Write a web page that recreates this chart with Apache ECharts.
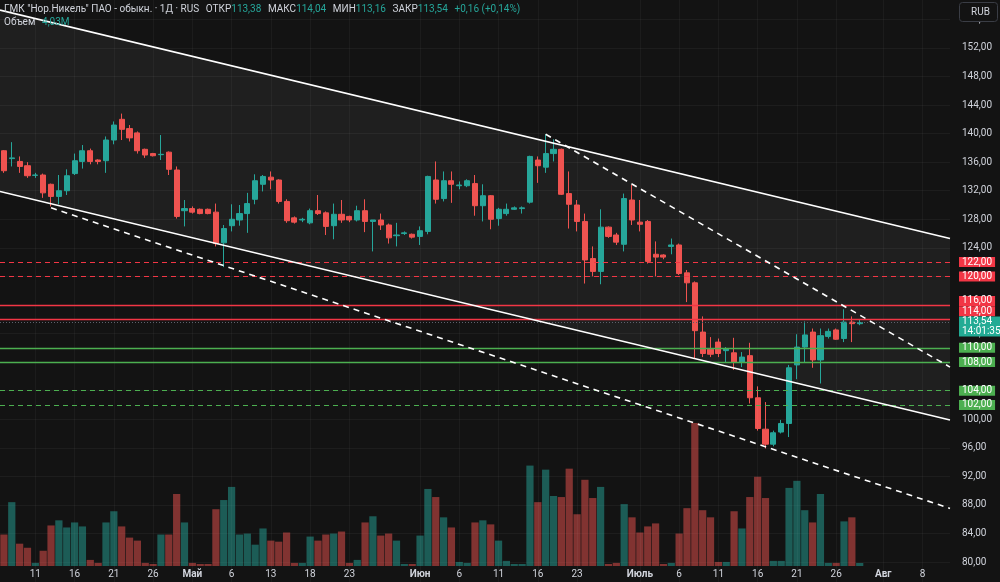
<!DOCTYPE html>
<html>
<head>
<meta charset="utf-8">
<script src="https://cdn.jsdelivr.net/npm/echarts@6/dist/echarts.min.js"></script>
<style>
  html, body { margin: 0; padding: 0; background: #131313; }
  #chart { width: 1000px; height: 582px; }
</style>
</head>
<body>
<div id="chart"></div>
<script>
// свечи: [откр, макс, мин, закр]
var ohlc = [
  [137.6,137.7,134.5,134.8],[136.5,138.8,135.4,136.6],[136.1,136.8,134.5,135.4],[135.5,136.0,133.8,134.1],
  [134.15,134.5,133.8,134.2],[134.2,134.4,131.0,131.7],[132.9,133.0,129.8,131.2],[131.2,134.2,130.1,132.0],
  [132.0,135.0,131.4,134.1],[134.4,137.2,134.2,136.2],[136.1,138.4,135.1,137.6],[137.6,137.9,135.7,136.1],
  [136.3,136.4,135.7,136.1],[136.2,139.6,134.5,139.1],[139.1,141.7,138.5,141.2],[142.0,142.8,139.1,140.6],
  [140.7,141.2,138.9,139.4],[140.1,140.3,137.2,137.6],[137.8,137.9,136.6,137.0],[137.2,137.3,136.8,136.9],
  [137.05,139.8,136.3,137.1],[137.4,137.5,134.2,135.0],[134.9,135.4,128.1,128.4],[129.2,130.7,127.0,129.5],
  [129.5,129.8,128.8,129.0],[129.4,129.5,128.7,128.8],[129.4,129.5,128.7,128.8],[129.0,130.2,124.2,124.6],
  [124.7,127.2,121.3,126.7],[127.1,130.1,126.3,128.0],[127.9,130.0,127.1,128.8],[128.8,131.7,126.1,130.2],
  [130.8,134.3,130.1,133.4],[132.9,134.2,131.9,134.0],[133.9,134.7,132.2,133.5],[133.5,133.6,130.2,130.5],
  [130.5,130.8,127.5,127.8],[128.2,128.4,127.4,127.6],[127.9,128.2,127.6,128.0],[127.5,129.5,127.3,129.2],
  [129.2,131.4,128.6,128.8],[128.9,129.1,125.8,127.0],[127.1,130.2,125.2,128.7],[128.7,130.7,127.5,127.9],
  [128.4,128.5,127.6,127.9],[127.9,129.9,127.7,129.2],[129.2,130.8,126.2,127.7],[127.7,127.9,123.5,127.9],
  [127.9,128.8,126.5,127.2],[127.2,127.4,124.6,125.4],[125.7,127.5,124.2,125.8],[126.0,126.3,125.8,126.1],
  [125.9,126.0,125.3,125.5],[125.6,127.0,124.4,126.4],[126.3,134.1,125.9,134.0],[133.5,136.1,130.2,130.8],
  [130.9,134.7,130.5,133.4],[133.4,134.7,130.3,132.9],[132.7,133.3,132.2,132.8],[132.7,133.6,132.5,133.4],
  [133.0,134.2,128.5,129.9],[129.9,132.9,127.7,131.3],[131.3,131.4,126.6,128.0],[128.1,129.6,127.1,129.4],
  [128.8,130.2,128.5,129.4],[129.4,129.8,129.3,129.6],[129.5,129.8,128.8,129.6],[130.4,136.9,130.2,136.8],
  [136.3,136.8,133.1,135.5],[135.3,139.9,134.5,137.2],[137.2,139.2,136.1,137.8],[137.8,137.9,131.4,131.5],
  [131.6,134.7,126.7,130.1],[130.0,130.7,126.3,127.7],[127.7,128.8,119.0,122.3],[122.5,124.2,120.0,120.7],
  [120.7,129.4,118.9,126.9],[126.9,127.0,125.4,125.6],[125.8,126.1,124.4,124.8],[124.5,131.6,123.5,130.9],
  [130.7,132.8,127.2,127.9],[127.6,130.7,126.3,127.3],[127.7,127.9,121.8,122.1],[123.1,124.9,120.0,122.7],
  [123.0,123.1,122.4,122.7],[124.2,125.3,123.1,124.4],[124.4,124.6,120.2,120.4],[120.5,120.9,116.4,119.1],
  [119.1,119.3,108.5,112.4],[112.2,114.4,108.7,109.2],[109.8,111.5,108.7,109.1],[110.8,111.3,108.7,109.2],
  [109.6,110.1,108.0,109.9],[109.3,111.4,106.9,108.0],[108.0,109.4,107.3,108.7],[108.9,110.7,102.2,103.0],
  [103.0,104.6,98.4,98.7],[98.6,102.4,95.9,96.5],[96.5,98.4,96.2,98.1],[98.2,99.9,98.0,99.4],
  [99.4,107.6,97.5,107.2],[107.6,111.9,105.6,110.1],[110.1,113.7,108.0,111.8],[112.2,112.7,107.2,108.3],
  [108.3,112.7,105.0,111.7],[111.6,112.7,111.3,112.3],[112.5,112.7,111.1,111.2],[111.3,115.4,110.8,113.6],
  [113.6,114.4,110.8,113.38],[113.38,114.04,113.16,113.54]
];

// объем, млн
var volumes = [
  41.9,85.0,29.7,24.3,4.1,20.3,54.0,60.8,51.3,58.0,52.7,8.1,4.1,58.0,72.9,52.7,37.8,33.8,4.1,2.7,
  41.9,41.9,95.9,58.0,4.1,2.7,2.7,75.6,87.8,105.3,41.9,43.2,28.4,50.0,33.8,32.4,44.6,4.1,4.1,39.2,
  33.8,41.9,43.2,45.9,4.1,8.1,58.0,66.2,40.5,43.2,33.8,2.7,2.7,40.5,102.6,91.8,64.8,51.3,5.4,4.1,
  58.0,60.8,55.4,33.8,6.8,2.7,2.7,133.7,85.0,128.3,93.2,91.8,129.6,68.9,114.8,90.5,105.3,2.7,4.1,82.4,
  64.8,44.6,52.7,56.7,2.7,4.1,43.2,77.0,190.4,74.3,64.8,5.4,5.4,72.9,50.0,91.8,118.8,90.5,6.8,6.8,
  104.0,113.4,74.3,58.0,95.9,4.1,4.1,59.4,64.8,4.03
];

var slotCount = 121; // 110 свечей + пустое место справа
var tickLabels = {4:'11', 9:'16', 14:'21', 19:'26', 24:'Май', 29:'6', 34:'13', 39:'18', 44:'23',
  53:'Июн', 58:'6', 63:'11', 68:'16', 73:'23', 81:'Июль', 86:'6', 91:'11', 96:'16', 101:'21', 106:'26',
  112:'Авг', 117:'8'};
var months = ['Май', 'Июн', 'Июль', 'Авг'];

// уровни
var redDashed = [122, 120];
var redSolid = [116, 114];
var greenSolid = [110, 108];
var greenDashed = [104, 102];

// трендовые линии: [индекс свечи, цена]
var channelUpper = [[-0.5, 157.3], [120.5, 125.3]];
var channelLower = [[-0.5, 131.9], [120.5, 99.9]];
var dashLower = [[6, 129.6], [120.5, 87.5]];
var dashUpper = [[69, 139.9], [120.5, 107.3]];

var upColor = '#26a69a';
var downColor = '#ef5350';
var textColor = '#d1d4dc';
var redLine = '#f23645';
var greenLine = '#4caf50';
var font = 'Roboto, sans-serif';

var slots = [];
for (var i = 0; i < slotCount; i++) slots.push(String(i));

function fmt(v) { return v.toFixed(2).replace('.', ','); }

var last = ohlc[ohlc.length - 1];
var prev = ohlc[ohlc.length - 2];
var chg = last[3] - prev[3];
var chgPct = chg / prev[3] * 100;

function levelLine(price, color, dashed) {
  return {
    yAxis: price,
    lineStyle: { color: color, type: dashed ? [5, 4] : 'solid', width: dashed ? 1 : 1.4 },
    label: { show: false }
  };
}

// ярлык на шкале цены: прозрачная линия, подпись в конце
function levelTag(price, color, text, offY) {
  return {
    yAxis: price,
    lineStyle: { color: 'rgba(0,0,0,0)', width: 1 },
    label: {
      show: true, position: 'end', distance: 9, formatter: text,
      backgroundColor: color, color: '#ffffff', fontSize: 10, fontFamily: font,
      lineHeight: 10, padding: [0, 3], offset: [0, offY || 0]
    }
  };
}

var lineData = [];
var tagData = [];
redDashed.forEach(function (p) { lineData.push(levelLine(p, redLine, true)); tagData.push(levelTag(p, redLine, fmt(p))); });
redSolid.forEach(function (p) { lineData.push(levelLine(p, redLine, false)); });
tagData.push(levelTag(redSolid[0], redLine, fmt(redSolid[0]), -4), levelTag(redSolid[1], redLine, fmt(redSolid[1]), -8));
greenSolid.forEach(function (p) { lineData.push(levelLine(p, greenLine, false)); tagData.push(levelTag(p, greenLine, fmt(p))); });
greenDashed.forEach(function (p) { lineData.push(levelLine(p, greenLine, true)); tagData.push(levelTag(p, greenLine, fmt(p))); });
lineData.push({ yAxis: last[3], lineStyle: { color: '#5d606b', type: [1, 2], width: 1 }, label: { show: false } });
tagData.push(levelTag(last[3], '#22ab94', fmt(last[3]) + '\n14:01:35', 4));

var gridLinesX = Object.keys(tickLabels).map(function (k) { return { xAxis: Number(k) }; });

function trend(name, pts, dashed) {
  return {
    name: name, type: 'line', xAxisIndex: 1, yAxisIndex: 0, data: pts,
    symbol: 'none', silent: true, z: 5,
    lineStyle: { color: '#ffffff', width: 1.6, type: dashed ? [6, 5] : 'solid' }
  };
}

var chart = echarts.init(document.getElementById('chart'));
chart.setOption({
  backgroundColor: '#131313',
  animation: false,
  textStyle: { fontFamily: font },
  grid: [
    { left: 0, right: 50, top: -9.2, bottom: -8.56, outerBoundsMode: 'none', containLabel: false },
    { left: 0, right: 50, top: 423, bottom: 16, outerBoundsMode: 'none', containLabel: false }
  ],
  xAxis: [
    { type: 'category', gridIndex: 0, data: slots, boundaryGap: true, show: false },
    { type: 'value', gridIndex: 0, min: -0.5, max: 120.5, show: false },
    {
      type: 'category', gridIndex: 1, data: slots, boundaryGap: true,
      axisLine: { show: false }, axisTick: { show: false }, splitLine: { show: false },
      axisLabel: {
        interval: 0, margin: 3, fontSize: 10, color: textColor,
        formatter: function (v) {
          var t = tickLabels[v] || '';
          return months.indexOf(t) >= 0 ? '{m|' + t + '}' : t;
        },
        rich: { m: { fontWeight: 'bold', fontSize: 10, color: textColor } }
      }
    }
  ],
  yAxis: [
    {
      type: 'value', gridIndex: 0, position: 'right', min: 76, max: 160, interval: 4,
      axisLine: { show: false }, axisTick: { show: false },
      splitLine: { lineStyle: { color: 'rgba(255,255,255,0.045)' } },
      axisLabel: { color: textColor, fontSize: 10, margin: 12, formatter: fmt }
    },
    { type: 'value', gridIndex: 1, min: 0, max: 'dataMax', show: false }
  ],
  graphic: [
    {
      type: 'text', left: 4, top: 3, z: 100,
      style: {
        text: '{t|ГМК "Нор.Никель" ПАО - обыкн. · 1Д · RUS}  {t|ОТКР}{v|' + fmt(last[0]) +
          '}  {t|МАКС}{v|' + fmt(last[1]) + '}  {t|МИН}{v|' + fmt(last[2]) +
          '}  {t|ЗАКР}{v|' + fmt(last[3]) + '}  {v|+' + fmt(chg) + ' (+' + fmt(chgPct) + '%)}',
        rich: {
          t: { fill: textColor, fontSize: 10, fontFamily: font },
          v: { fill: upColor, fontSize: 10, fontFamily: font }
        }
      }
    },
    {
      type: 'text', left: 4, top: 16, z: 100,
      style: {
        text: '{t|Объем}  {v|' + fmt(volumes[volumes.length - 1]) + 'M}',
        rich: {
          t: { fill: textColor, fontSize: 10, fontFamily: font },
          v: { fill: upColor, fontSize: 10, fontFamily: font }
        }
      }
    },
    {
      type: 'rect', right: 2, top: 2, z: 100,
      shape: { width: 38, height: 19, r: 3 },
      style: { fill: '#131313', stroke: '#3a3d45', lineWidth: 1 }
    },
    {
      type: 'text', right: 10, top: 7, z: 101,
      style: { text: 'RUB', fill: textColor, fontSize: 10, fontFamily: font }
    }
  ],
  series: [
    {
      name: 'Канал', type: 'custom', xAxisIndex: 1, yAxisIndex: 0, silent: true, z: 1,
      data: [[0, 0]],
      renderItem: function (params, api) {
        var pts = channelUpper.concat(channelLower.slice().reverse()).map(function (p) { return api.coord(p); });
        return { type: 'polygon', shape: { points: pts }, style: { fill: 'rgba(255,255,255,0.055)' } };
      }
    },
    {
      name: 'Сетка', type: 'line', xAxisIndex: 1, yAxisIndex: 0, data: [], silent: true, z: 1,
      markLine: {
        symbol: ['none', 'none'], silent: true, animation: false,
        label: { show: false },
        lineStyle: { color: 'rgba(255,255,255,0.04)', type: 'solid', width: 1 },
        data: gridLinesX
      }
    },
    {
      name: 'Объем', type: 'bar', xAxisIndex: 2, yAxisIndex: 1, barWidth: '92%', silent: true, z: 2,
      data: volumes.map(function (v, i) {
        var up = ohlc[i][3] >= ohlc[i][0];
        return { value: v, itemStyle: { color: up ? 'rgba(38,166,154,0.5)' : 'rgba(239,83,80,0.5)' } };
      })
    },
    {
      name: 'Уровни', type: 'line', xAxisIndex: 1, yAxisIndex: 0, data: [], silent: true, z: 3,
      markLine: { symbol: ['none', 'none'], silent: true, animation: false, data: lineData }
    },
    {
      name: 'ГМК', type: 'candlestick', xAxisIndex: 0, yAxisIndex: 0, barWidth: 5.6, z: 4,
      data: ohlc.map(function (r) { return [r[0], r[3], r[2], r[1]]; }),
      itemStyle: { color: upColor, color0: downColor, borderColor: upColor, borderColor0: downColor, borderWidth: 1 }
    },
    trend('Канал верх', channelUpper, false),
    trend('Канал низ', channelLower, false),
    trend('Линия 1', dashLower, true),
    trend('Линия 2', dashUpper, true),
    {
      name: 'Ярлыки', type: 'line', xAxisIndex: 1, yAxisIndex: 0, data: [], silent: true, z: 10,
      markLine: { symbol: ['none', 'none'], silent: true, animation: false, data: tagData }
    }
  ]
});
</script>
</body>
</html>
